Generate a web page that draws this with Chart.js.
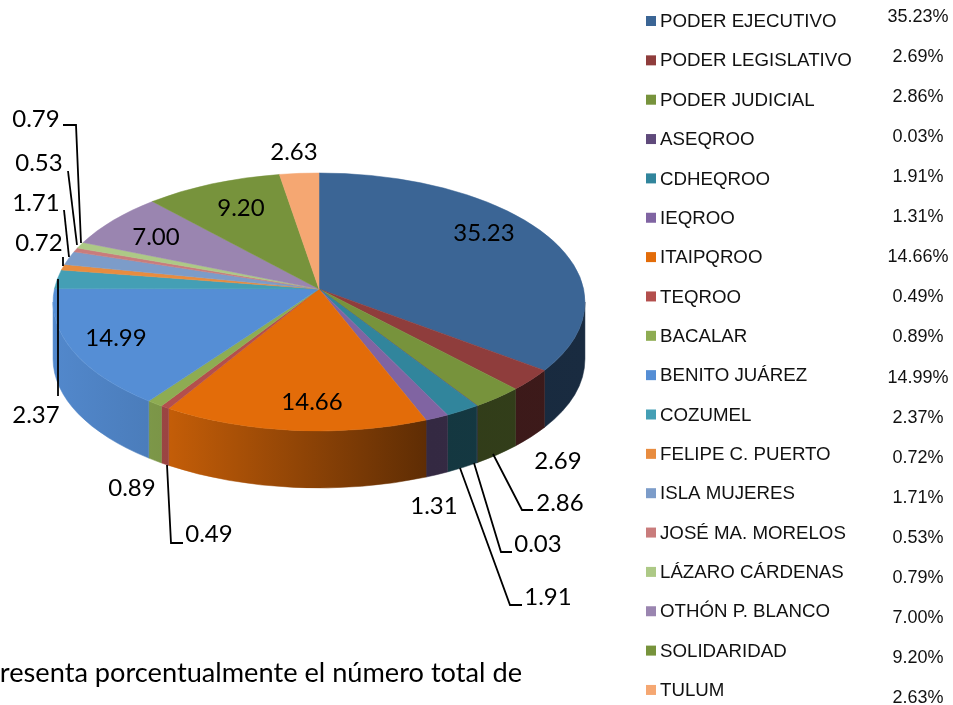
<!DOCTYPE html>
<html>
<head>
<meta charset="utf-8">
<style>
html, body { margin: 0; padding: 0; background: #fff; overflow: hidden; }
#wrap { width: 953px; height: 705px; position: relative; }
canvas { display: block; }
</style>
<script src="https://cdn.jsdelivr.net/npm/chart.js@4/dist/chart.umd.min.js"></script>
</head>
<body>
<div id="wrap"><canvas id="pie" width="953" height="705"></canvas></div>
<script>
const categories = ['PODER EJECUTIVO', 'PODER LEGISLATIVO', 'PODER JUDICIAL', 'ASEQROO', 'CDHEQROO', 'IEQROO', 'ITAIPQROO', 'TEQROO', 'BACALAR', 'BENITO JUÁREZ', 'COZUMEL', 'FELIPE C. PUERTO', 'ISLA MUJERES', 'JOSÉ MA. MORELOS', 'LÁZARO CÁRDENAS', 'OTHÓN P. BLANCO', 'SOLIDARIDAD', 'TULUM'];
const shareValues = [35.23, 2.69, 2.86, 0.03, 1.91, 1.31, 14.66, 0.49, 0.89, 14.99, 2.37, 0.72, 1.71, 0.53, 0.79, 7.00, 9.20, 2.63];
const sliceColors = ['#3b6595', '#8f3d3c', '#77933c', '#5f4a7b', '#31859c', '#8064a2', '#e36c09', '#b34f4d', '#8eac52', '#558ed5', '#449fb5', '#e88c3f', '#7c9cc9', '#c97c7c', '#adc986', '#9a85b0', '#77933c', '#f5a772'];

// where each value label sits, index follows categories
const labelSpots = [[484, 233], [558, 461], [560, 503], [538, 544], [548, 597], [434, 506], [312, 402], [209, 534], [132, 488], [116, 338], [36, 415], [39, 243], [36, 203], [39, 163], [36, 119], [156, 237], [241, 208], [294, 152]];
const leaders = [
    [[63, 125], [76, 125], [81, 243]],
    [[68, 171], [77, 245]],
    [[64, 210], [69, 257]],
    [[63, 257], [63, 266]],
    [[58, 279], [58, 396]],
    [[167, 465], [171, 543], [183, 543]],
    [[493, 454], [522, 510], [533, 510]],
    [[474, 463], [501, 552], [512, 552]],
    [[460, 468], [510, 605], [522, 605]]
];

// perspective of the tilted disc
const tilt = 0.1008;
const squash = 0.4826;
const depth = 57;

function shade(hex, f) {
    const n = parseInt(hex.slice(1), 16);
    const r = Math.round((n >> 16 & 255) * f);
    const g = Math.round((n >> 8 & 255) * f);
    const b = Math.round((n & 255) * f);
    return `rgb(${r},${g},${b})`;
}

const pie3d = {
    id: 'pie3d',
    beforeDatasetsDraw(chart) {
        const ctx = chart.ctx;
        const arcs = chart.getDatasetMeta(0).data;
        const cx = arcs[0].x;
        const cy = arcs[0].y;
        const R = arcs[0].outerRadius;
        const rx = R / Math.sqrt(1 - tilt * tilt);
        const ry = R * squash / (1 - tilt * tilt);
        const ey = cy + R * squash * tilt / (1 - tilt * tilt);

        // slice angle on the disc -> parameter on the projected ellipse
        const project = a => {
            const w = 1 - tilt * Math.sin(a);
            const x = R * Math.cos(a) / w;
            const y = R * squash * Math.sin(a) / w;
            return Math.atan2((cy + y - ey) / ry, x / rx);
        };
        const unwrap = (t, from) => {
            while (t < from - 1e-6) t += Math.PI * 2;
            return t;
        };

        // side wall, lighter to the left
        arcs.forEach(arc => {
            const color = arc.options.backgroundColor;
            const t1 = project(arc.startAngle);
            const t2 = unwrap(project(arc.endAngle), t1);
            for (const shift of [-Math.PI * 2, 0, Math.PI * 2]) {
                const a = Math.max(t1 + shift, 0);
                const b = Math.min(t2 + shift, Math.PI);
                if (b <= a) continue;
                const g = ctx.createLinearGradient(cx - rx, 0, cx + rx, 0);
                g.addColorStop(0, shade(color, 0.96));
                g.addColorStop(0.22, shade(color, 0.86));
                g.addColorStop(0.71, shade(color, 0.41));
                g.addColorStop(1, shade(color, 0.43));
                ctx.beginPath();
                ctx.ellipse(cx, ey, rx, ry, 0, a, b);
                ctx.ellipse(cx, ey + depth, rx, ry, 0, b, a, true);
                ctx.closePath();
                ctx.fillStyle = g;
                ctx.fill();
                ctx.strokeStyle = g;
                ctx.lineWidth = 0.5;
                ctx.stroke();
            }
        });

        // top face
        arcs.forEach(arc => {
            const color = arc.options.backgroundColor;
            const t1 = project(arc.startAngle);
            const t2 = unwrap(project(arc.endAngle), t1);
            ctx.beginPath();
            ctx.moveTo(cx, cy);
            ctx.ellipse(cx, ey, rx, ry, 0, t1, t2);
            ctx.closePath();
            ctx.fillStyle = color;
            ctx.strokeStyle = color;
            ctx.lineWidth = 0.5;
            ctx.fill();
            ctx.stroke();
        });
        return false;
    },
    afterDraw(chart) {
        const ctx = chart.ctx;
        ctx.save();

        // value labels and leader lines
        ctx.strokeStyle = '#000';
        ctx.lineWidth = 1.8;
        leaders.forEach(line => {
            ctx.beginPath();
            line.forEach((p, i) => i ? ctx.lineTo(p[0], p[1]) : ctx.moveTo(p[0], p[1]));
            ctx.stroke();
        });
        ctx.fillStyle = '#000';
        ctx.font = '24px Lato';
        ctx.textAlign = 'center';
        ctx.textBaseline = 'middle';
        shareValues.forEach((v, i) => {
            ctx.fillText(v.toFixed(2), labelSpots[i][0], labelSpots[i][1]);
        });

        // legend column
        ctx.font = '18.7px "Liberation Sans"';
        ctx.textAlign = 'left';
        categories.forEach((name, i) => {
            const y = 22 + i * 39.35;
            ctx.fillStyle = sliceColors[i];
            ctx.fillRect(646, y - 6, 10, 10);
            ctx.fillStyle = '#111';
            ctx.fillText(name, 660, y);
        });

        // percent column
        ctx.font = '18px "Liberation Sans"';
        ctx.textAlign = 'center';
        shareValues.forEach((v, i) => {
            ctx.fillText(v.toFixed(2) + '%', 918, 17 + i * 40.06);
        });

        // page text cut by the bottom edge
        ctx.font = '27.2px Lato';
        ctx.textAlign = 'right';
        ctx.textBaseline = 'alphabetic';
        ctx.fillStyle = '#000';
        ctx.fillText('Representa porcentualmente el número total de', 522, 682);
        ctx.restore();
    }
};

new Chart(document.getElementById('pie'), {
    type: 'pie',
    data: {
        labels: categories,
        datasets: [{
            data: shareValues,
            backgroundColor: sliceColors,
            borderWidth: 0
        }]
    },
    options: {
        responsive: false,
        animation: false,
        radius: 264.6,
        layout: { padding: { left: 0, top: 0, right: 315, bottom: 127 } },
        plugins: {
            legend: { display: false },
            tooltip: { enabled: false }
        }
    },
    plugins: [pie3d]
});
</script>
</body>
</html>
